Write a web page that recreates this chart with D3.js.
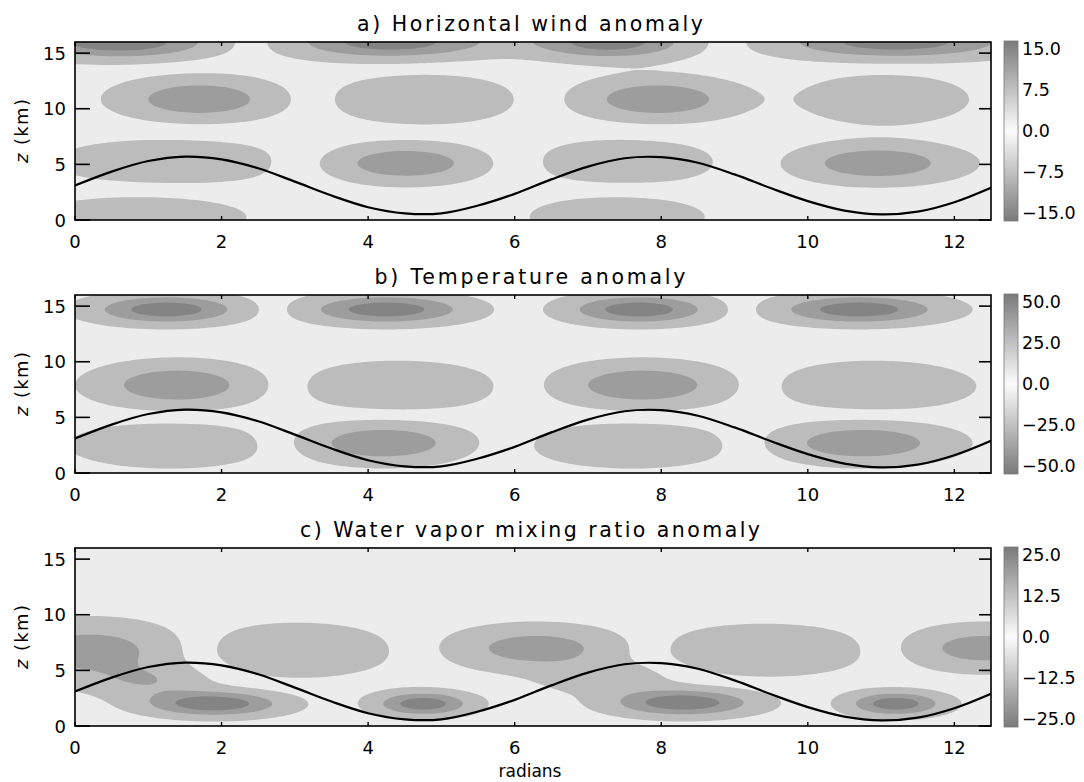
<!DOCTYPE html>
<html>
<head>
<meta charset="utf-8">
<script src="https://cdn.jsdelivr.net/npm/d3@7"></script>
<style>
  body { margin: 0; background: #fff; }
  svg { display: block; }
  text { font-family: "DejaVu Sans", sans-serif; fill: #000; }
</style>
</head>
<body>
<svg id="chart" width="1084" height="782"></svg>
<script>
// ---- axis ticks -------------------------------------------------------
const xTicks = [0, 2, 4, 6, 8, 10, 12];
const zTicks = [0, 5, 10, 15];

// ---- terrain profile (km) sampled every 0.5 rad ------------------------
const terrainX = [0, 0.5, 1, 1.5, 2, 2.5, 3, 3.5, 4, 4.5, 5, 5.5, 6, 6.5, 7, 7.5, 8, 8.5, 9, 9.5, 10, 10.5, 11, 11.5, 12, 12.5];
const terrainZ = [3.1, 4.35, 5.3, 5.7, 5.45, 4.65, 3.45, 2.2, 1.15, 0.6, 0.6, 1.3, 2.35, 3.65, 4.8, 5.55, 5.65, 5.15, 4.1, 2.85, 1.7, 0.85, 0.5, 0.75, 1.6, 2.9];

// ---- anomaly cells: centre (rad, km), half extent (rad, km), peak value --
// a) horizontal wind
const windCx   = [0.6, 4.3, 7.3, 11.2,   1.7, 4.75, 7.95, 11.05,   1.3, 4.5, 7.5, 10.95,   0.9, 7.4];
const windCz   = [16.0, 16.0, 16.0, 16.0, 10.85, 10.85, 10.85, 10.85, 5.2, 5.1, 5.2, 5.1,  0.3, 0.3];
const windHx   = [1.8, 1.9, 1.5, 2.2,     1.35, 1.3, 1.35, 1.15,   1.6, 1.35, 1.25, 1.4,   1.45, 1.2];
const windHz   = [2.1, 2.1, 2.1, 2.1,     2.4, 2.3, 2.4, 2.3,      2.1, 2.2, 2.1, 2.2,     2.0, 2.0];
const windPeak = [-15, 14, 14, -14,       11, -6.5, 11, 6.5,       -4, 11, -4, 11,         6.5, 6.5];

// b) temperature
const tempCx   = [1.25, 4.25, 7.7, 10.7,  1.4, 4.4, 7.75, 10.9,   1.3, 4.2, 7.6, 10.75];
const tempCz   = [14.7, 14.7, 14.7, 14.7, 7.9, 7.8, 7.9, 7.8,     2.5, 2.7, 2.5, 2.7];
const tempHx   = [1.4, 1.5, 1.35, 1.55,   1.4, 1.4, 1.45, 1.4,    1.4, 1.4, 1.4, 1.5];
const tempHz   = [1.8, 1.8, 1.8, 1.8,     2.5, 2.3, 2.5, 2.3,     2.1, 2.3, 2.1, 2.3];
const tempPeak = [-48, 48, -48, 48,       37, -21, 37, -21,       -20, 37, -20, 37];

// c) water vapor mixing ratio
const vaporCx   = [0.2, 1.9, 1.0, 3.0, 4.75, 6.3, 8.3, 7.25, 9.4, 11.2, 12.4];
const vaporCz   = [6.8, 2.0, 4.0, 6.8, 2.0, 7.0, 2.1, 4.3, 6.8, 2.0, 7.0];
const vaporHx   = [1.55, 1.3, 0.85, 1.4, 0.9, 1.45, 1.35, 0.85, 1.5, 0.9, 1.3];
const vaporHz   = [3.1, 1.6, 1.5, 2.5, 1.5, 2.4, 1.7, 1.4, 2.4, 1.5, 2.4];
const vaporPeak = [16, 25, 9, -10, -24, 16, 25, 9, -10, -24, 16];

// ---- colour-bar labels --------------------------------------------------
const windBarLabels  = ["15.0", "7.5", "0.0", "\u22127.5", "\u221215.0"];
const tempBarLabels  = ["50.0", "25.0", "0.0", "\u221225.0", "\u221250.0"];
const vaporBarLabels = ["25.0", "12.5", "0.0", "\u221212.5", "\u221225.0"];

const panels = [
  { title: "a) Horizontal wind anomaly", titleW: 346, top: 42, max: 15,
    cx: windCx, cz: windCz, hx: windHx, hz: windHz, peak: windPeak, bar: windBarLabels },
  { title: "b) Temperature anomaly", titleW: 311, top: 295, max: 50,
    cx: tempCx, cz: tempCz, hx: tempHx, hz: tempHz, peak: tempPeak, bar: tempBarLabels },
  { title: "c) Water vapor mixing ratio anomaly", titleW: 460, top: 548, max: 25,
    cx: vaporCx, cz: vaporCz, hx: vaporHx, hz: vaporHz, peak: vaporPeak, bar: vaporBarLabels }
];

// ---- layout --------------------------------------------------------------
const X_MAX = 12.5, Z_MAX = 16;
const left = 75, right = 991, plotH = 178;
const barX = 1004, barW = 14;

// shading bands as a fraction of the colour-bar range
const bandFrac = [0.12, 0.45, 0.75];
const bandGray = [188, 157, 132];
const zeroGray = 236;
const grayHex = g => d3.rgb(g, g, g).formatHex();

const svg = d3.select("#chart");
const defs = svg.append("defs");

const x = d3.scaleLinear().domain([0, X_MAX]).range([left, right]);

// grid for the shaded field
const nx = 251, nz = 161;
const dx = X_MAX / (nx - 1), dz = Z_MAX / (nz - 1);

function buildField(p) {
  const v = new Float64Array(nx * nz);
  const t1 = bandFrac[0] * p.max;
  const cells = p.cx.map((c, k) => {
    const L = Math.log(Math.abs(p.peak[k]) / t1);
    const s = L > 0.05 ? Math.sqrt(L) : 1;
    return { cx: c, cz: p.cz[k], wx: p.hx[k] / s, wz: p.hz[k] / s, a: p.peak[k] };
  });
  for (let j = 0; j < nz; j++) {
    const zz = j * dz;
    for (let i = 0; i < nx; i++) {
      const xx = i * dx;
      let sum = 0;
      for (const c of cells) {
        const a = (xx - c.cx) / c.wx, b = (zz - c.cz) / c.wz;
        sum += c.a * Math.exp(-(a * a + b * b));
      }
      v[j * nx + i] = sum;
    }
  }
  return v;
}

const lineGen = d3.line().curve(d3.curveCatmullRom.alpha(0.5));

panels.forEach((p, idx) => {
  const y = d3.scaleLinear().domain([0, Z_MAX]).range([p.top + plotH, p.top]);
  const g = svg.append("g");

  const clipId = "clip" + idx;
  defs.append("clipPath").attr("id", clipId)
    .append("rect").attr("x", left).attr("y", p.top)
    .attr("width", right - left).attr("height", plotH);

  const field = g.append("g").attr("clip-path", `url(#${clipId})`);
  field.append("rect").attr("x", left).attr("y", p.top)
    .attr("width", right - left).attr("height", plotH)
    .attr("fill", grayHex(zeroGray));

  const values = buildField(p);
  const negValues = Array.from(values, d => -d);
  const proj = d3.geoTransform({
    point: function (gx, gy) {
      this.stream.point(x((gx - 0.5) * dx), y((gy - 0.5) * dz));
    }
  });
  const path = d3.geoPath(proj);
  const thresholds = bandFrac.map(f => f * p.max);
  const contours = d3.contours().size([nx, nz]).thresholds(thresholds);
  const pos = contours(Array.from(values)), neg = contours(negValues);
  thresholds.forEach((t, k) => {
    [pos[k], neg[k]].forEach(c => {
      field.append("path").attr("d", path(c)).attr("fill", grayHex(bandGray[k]));
    });
  });

  // terrain line
  const pts = terrainX.map((xv, i) => [x(xv), y(terrainZ[i])]);
  field.append("path").attr("d", lineGen(pts))
    .attr("fill", "none").attr("stroke", "#000").attr("stroke-width", 2.2);

  // frame
  g.append("rect").attr("x", left).attr("y", p.top)
    .attr("width", right - left).attr("height", plotH)
    .attr("fill", "none").attr("stroke", "#000").attr("stroke-width", 1.6);

  // z ticks (inward, both sides) and labels
  zTicks.forEach(t => {
    g.append("line").attr("x1", left).attr("x2", left + 15)
      .attr("y1", y(t)).attr("y2", y(t)).attr("stroke", "#000").attr("stroke-width", 1.6);
    g.append("line").attr("x1", right - 12).attr("x2", right)
      .attr("y1", y(t)).attr("y2", y(t)).attr("stroke", "#000").attr("stroke-width", 1.6);
    g.append("text").attr("x", 66).attr("y", y(t) + 6.5)
      .attr("text-anchor", "end").attr("font-size", 18).text(t);
  });

  // x ticks and labels
  xTicks.forEach(t => {
    g.append("line").attr("x1", x(t)).attr("x2", x(t))
      .attr("y1", p.top + plotH).attr("y2", p.top + plotH - 4).attr("stroke", "#000").attr("stroke-width", 1.4);
    g.append("line").attr("x1", x(t)).attr("x2", x(t))
      .attr("y1", p.top).attr("y2", p.top + 4).attr("stroke", "#000").attr("stroke-width", 1.4);
    g.append("text").attr("x", x(t)).attr("y", p.top + plotH + 28)
      .attr("text-anchor", "middle").attr("font-size", 18).text(t);
  });

  // z axis title
  const yl = g.append("text")
    .attr("transform", `translate(28,${p.top + plotH / 2}) rotate(-90)`)
    .attr("text-anchor", "middle").attr("font-size", 18)
    .attr("textLength", 64).attr("lengthAdjust", "spacing");
  yl.append("tspan").attr("font-style", "italic").text("z");
  yl.append("tspan").text(" (km)");

  // panel title
  g.append("text").attr("x", 530).attr("y", p.top - 11)
    .attr("text-anchor", "middle").attr("font-size", 20.5)
    .attr("textLength", p.titleW).attr("lengthAdjust", "spacing")
    .text(p.title);

  // colour bar
  const gradId = "grad" + idx;
  const grad = defs.append("linearGradient").attr("id", gradId)
    .attr("x1", 0).attr("y1", 0).attr("x2", 0).attr("y2", 1);
  const barGray = d3.scaleLinear().domain([-1, 0, 1]).range([122, 252, 122]);
  d3.range(0, 1.0001, 0.05).forEach(o => {
    const gv = Math.round(barGray(1 - 2 * o));
    grad.append("stop").attr("offset", o).attr("stop-color", grayHex(gv));
  });
  g.append("rect").attr("x", barX).attr("y", p.top - 1)
    .attr("width", barW).attr("height", plotH + 2)
    .attr("fill", `url(#${gradId})`).attr("stroke", "#777").attr("stroke-width", 0.8);

  const lab = d3.scaleLinear().domain([0, p.bar.length - 1]).range([p.top + 6, p.top + plotH - 8]);
  p.bar.forEach((s, i) => {
    g.append("text").attr("x", 1022).attr("y", lab(i) + 6.5)
      .attr("font-size", 17.5).text(s);
  });
});

svg.append("text").attr("x", 530).attr("y", 777)
  .attr("text-anchor", "middle").attr("font-size", 17).text("radians");
</script>
</body>
</html>
